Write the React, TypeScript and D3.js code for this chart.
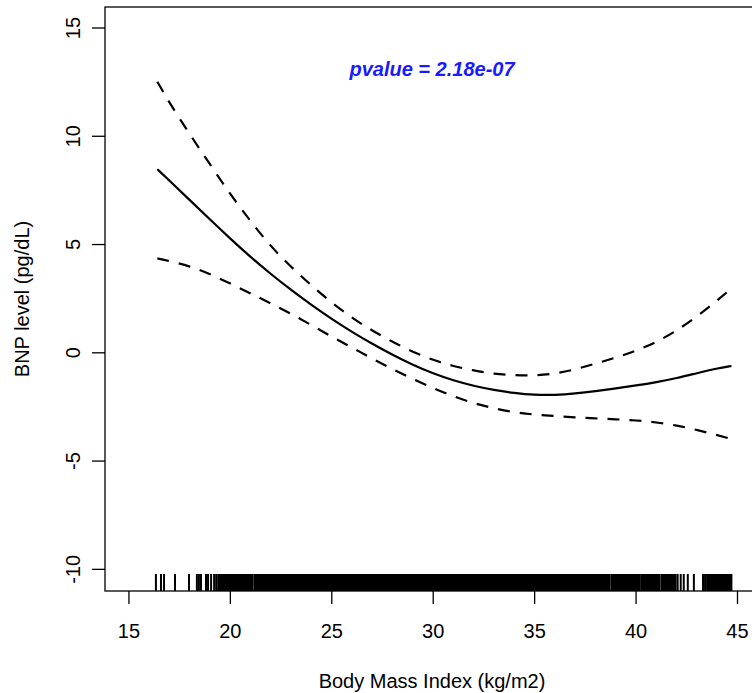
import * as d3 from 'd3';
import React from 'react';

// BMI grid where the fitted spline and its confidence band were read
const bmi = [16.4, 17, 18, 19, 20, 21, 22, 23, 24, 25, 26, 27, 28, 29, 30,
  31, 32, 33, 34, 35, 36, 37, 38, 39, 40, 41, 42, 43, 44, 44.7];

// fitted BNP level (solid line)
const fit = [8.48, 7.95, 7.05, 6.15, 5.27, 4.42, 3.63, 2.9, 2.21, 1.56, 0.96, 0.41, -0.1, -0.56, -0.96,
  -1.28, -1.53, -1.72, -1.86, -1.95, -1.95, -1.88, -1.77, -1.64, -1.51, -1.36, -1.17, -0.94, -0.72, -0.61];

// upper 95% band (dashed)
const upper = [12.52, 11.54, 10.09, 8.7, 7.31, 6.07, 4.9, 3.96, 3.1, 2.31, 1.61, 1.02, 0.5, 0.04, -0.34,
  -0.62, -0.82, -0.98, -1.04, -1.05, -0.97, -0.77, -0.5, -0.22, 0.09, 0.49, 1.02, 1.67, 2.42, 2.97];

// lower 95% band (dashed)
const lower = [4.36, 4.24, 4.0, 3.64, 3.2, 2.74, 2.28, 1.8, 1.28, 0.74, 0.24, -0.27, -0.76, -1.21, -1.63,
  -2.02, -2.33, -2.57, -2.75, -2.86, -2.92, -2.98, -3.03, -3.07, -3.12, -3.21, -3.35, -3.56, -3.8, -3.98];

// rug: single observations in the sparse tails
const rugTicks = [16.33, 16.58, 16.73, 17.27, 17.96, 18.35, 18.45, 18.55, 18.8, 18.9, 19.05, 19.2, 19.3,
  42.05, 42.2, 42.35, 42.55, 42.85, 43.3, 43.4];
// rug: stretches so dense that ticks merge into a solid band
const rugDense = [[19.4, 21.1], [21.2, 38.68], [38.78, 40.15], [40.25, 41.15], [41.25, 41.95], [43.5, 44.7]];

const xTicks = [15, 20, 25, 30, 35, 40, 45];
const yTicks = [-10, -5, 0, 5, 10, 15];

const pLabel = 'pvalue = 2.18e-07';
const xLabel = 'Body Mass Index (kg/m2)';
const yLabel = 'BNP level (pg/dL)';

const App = () => {
  const width = 752;
  const height = 693;
  const left = 105, right = 759, top = 7, bottom = 591;
  const font = '"Liberation Sans", Arial, sans-serif';

  const x = d3.scaleLinear().domain([13.82, 46.06]).range([left, right]);
  const y = d3.scaleLinear().domain([-11.0, 15.97]).range([bottom, top]);

  const line = d3.line<number>()
    .x((d, i) => x(bmi[i]))
    .y((d) => y(d))
    .curve(d3.curveBasis);

  const rugH = 17;

  return (
    <svg width={width} height={height} style={{ position: 'absolute', left: 0, top: 0, background: '#fff' }}>
      <rect x={0} y={0} width={width} height={height} fill="#fff" />

      {/* rug */}
      <g fill="#000" stroke="#000">
        {rugTicks.map((v, i) => (
          <line key={'t' + i} x1={x(v)} x2={x(v)} y1={bottom - rugH} y2={bottom} strokeWidth={2} />
        ))}
        {rugDense.map(([a, b], i) => (
          <rect key={'d' + i} x={x(a) - 1} y={bottom - rugH} width={x(b) - x(a) + 2} height={rugH} stroke="none" />
        ))}
      </g>

      {/* curves */}
      <path d={line(upper) || ''} fill="none" stroke="#000" strokeWidth={2.2} strokeDasharray="12,10" />
      <path d={line(lower) || ''} fill="none" stroke="#000" strokeWidth={2.2} strokeDasharray="12,10" />
      <path d={line(fit) || ''} fill="none" stroke="#000" strokeWidth={2.2} />

      {/* box */}
      <rect x={left} y={top} width={right - left} height={bottom - top} fill="none" stroke="#000" strokeWidth={1.3} />

      {/* axes and labels */}
      <g fontFamily={font} fontSize={20} fill="#000">
        {xTicks.map((t) => (
          <g key={'x' + t}>
            <line x1={x(t)} x2={x(t)} y1={bottom} y2={bottom + 13} stroke="#000" strokeWidth={1.3} />
            <text x={x(t)} y={638} textAnchor="middle">{t}</text>
          </g>
        ))}
        {yTicks.map((t) => (
          <g key={'y' + t}>
            <line x1={left - 13} x2={left} y1={y(t)} y2={y(t)} stroke="#000" strokeWidth={1.3} />
            <text transform={`translate(80,${y(t)}) rotate(-90)`} textAnchor="middle">{t}</text>
          </g>
        ))}
        <text x={(left + right) / 2} y={688} textAnchor="middle">{xLabel}</text>
        <text transform={`translate(28.5,${(top + bottom) / 2}) rotate(-90)`} textAnchor="middle">{yLabel}</text>
        <text x={(left + right) / 2} y={76} textAnchor="middle" fill="#1a1aff" fontWeight="bold" fontStyle="italic">{pLabel}</text>
      </g>
    </svg>
  );
};

export default App;
